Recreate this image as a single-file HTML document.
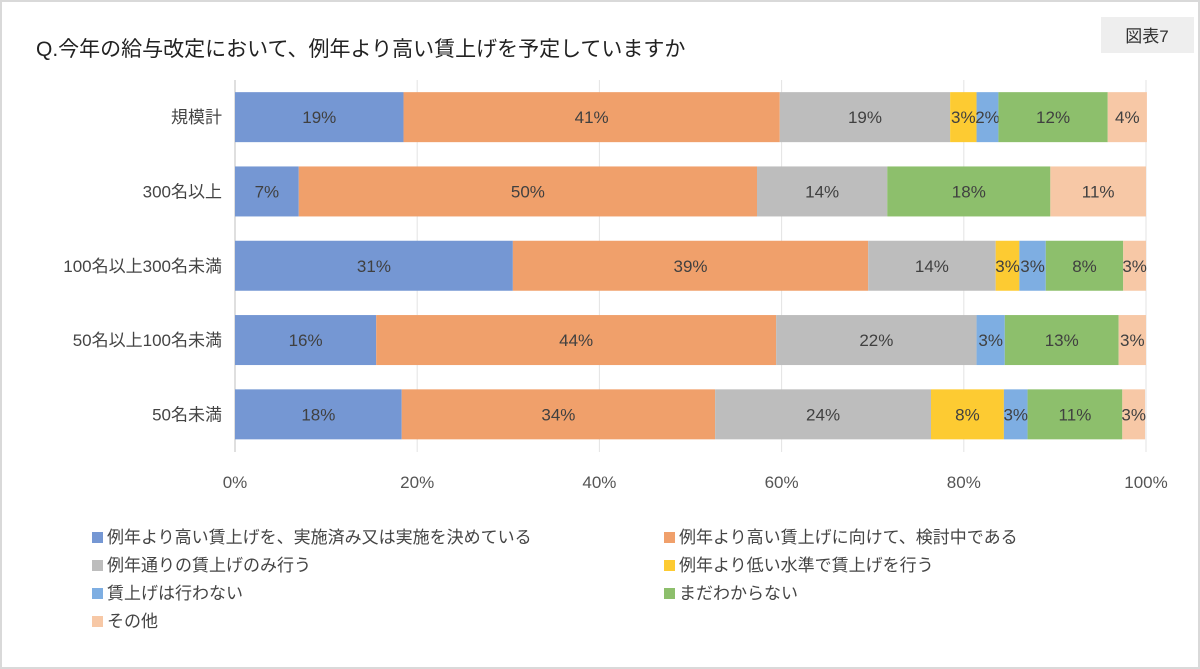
<!DOCTYPE html>
<html><head><meta charset="utf-8">
<style>
body{margin:0;width:1200px;height:669px;overflow:hidden;background:#fff;font-family:"Liberation Sans","Noto Sans CJK JP",sans-serif;}
#frame{position:absolute;left:0;top:0;width:1196px;height:665px;border:2px solid #d9d9d9;}
</style></head><body>
<div id="frame"></div>
<svg id="chart" width="1200" height="669" style="position:absolute;left:0;top:0">
<rect x="1101" y="17" width="93" height="36" fill="#eeeeee"/>
<text x="1147" y="42" font-size="17" text-anchor="middle" fill="#333">図表7</text>
<text x="36" y="56" font-size="21" fill="#222">Q.今年の給与改定において、例年より高い賃上げを予定していますか</text>
<g id="grid"></g><g id="bars"></g><g id="axis"></g><g id="legend"></g>
</svg>
<script>
const categories=["規模計","300名以上","100名以上300名未満","50名以上100名未満","50名未満"];
const seriesNames=["例年より高い賃上げを、実施済み又は実施を決めている","例年より高い賃上げに向けて、検討中である","例年通りの賃上げのみ行う","例年より低い水準で賃上げを行う","賃上げは行わない","まだわからない","その他"];
const s1=[18.5,7,30.5,15.5,18.3];
const s2=[41.3,50.3,39,43.9,34.4];
const s3=[18.7,14.3,14,22,23.7];
const s4=[2.9,0,2.6,0,8];
const s5=[2.4,0,2.9,3.1,2.6];
const s6=[12,17.9,8.5,12.5,10.4];
const s7=[4.3,10.5,2.5,3,2.5];
const labels1=["19%","7%","31%","16%","18%"];
const labels2=["41%","50%","39%","44%","34%"];
const labels3=["19%","14%","14%","22%","24%"];
const labels4=["3%","","3%","","8%"];
const labels5=["2%","","3%","3%","3%"];
const labels6=["12%","18%","8%","13%","11%"];
const labels7=["4%","11%","3%","3%","3%"];
const ticks=[0,20,40,60,80,100];
const colors=["#7597d3","#f0a06b","#bdbdbd","#fdcb32","#7eaee2","#8dbf6c","#f7c8a6"];
const series=[s1,s2,s3,s4,s5,s6,s7];
const slabels=[labels1,labels2,labels3,labels4,labels5,labels6,labels7];
const NS="http://www.w3.org/2000/svg";
const x0=235,x1=1146,yTop=80,rowH=74.3,barH=50;
const xs=v=>x0+(x1-x0)*v/100;
const yc=i=>yTop+rowH*(i+0.5);
function mk(t,a,p){const e=document.createElementNS(NS,t);for(const k in a)e.setAttribute(k,a[k]);p.appendChild(e);return e;}
const grid=document.getElementById('grid'),bars=document.getElementById('bars'),axis=document.getElementById('axis'),legend=document.getElementById('legend');
ticks.forEach(t=>{
 const l=mk('line',{x1:xs(t),x2:xs(t),y1:yTop,y2:452,stroke:t===0?'#bfbfbf':'#e3e3e3','stroke-width':1},grid);
 
 
 const tx=mk('text',{x:xs(t),y:488,'font-size':17,'text-anchor':'middle',fill:'#555'},axis);
 tx.textContent=t+'%';
 
 
});
categories.forEach((c,i)=>{
 const tx=mk('text',{x:222,y:yc(i)+6,'font-size':17,'text-anchor':'end',fill:'#444'},axis);
 tx.textContent=c;
 
 
 let acc=0;
 series.forEach((s,k)=>{
  const v=s[i];
  if(v>0){
   const r=mk('rect',{x:xs(acc),y:yc(i)-barH/2,width:xs(acc+v)-xs(acc),height:barH,fill:colors[k]},bars);
   
   
   const lb=slabels[k][i];
   if(lb){
    const t=mk('text',{x:(xs(acc)+xs(acc+v))/2,y:yc(i)+6,'font-size':17,'text-anchor':'middle',fill:'#404040'},bars);
    t.textContent=lb;
    
    
   }
  }
  acc+=v;
 });
});
const lpos=[[92,543],[664,543],[92,571],[664,571],[92,599],[664,599],[92,627]];
seriesNames.forEach((n,k)=>{
 const g=mk('g',{},legend);
 
 
 mk('rect',{x:lpos[k][0],y:lpos[k][1]-11,width:11,height:11,fill:colors[k]},g);
 const t=mk('text',{x:lpos[k][0]+15,y:lpos[k][1],'font-size':17,fill:'#444'},g);
 t.textContent=n;
});
</script>
</body></html>
